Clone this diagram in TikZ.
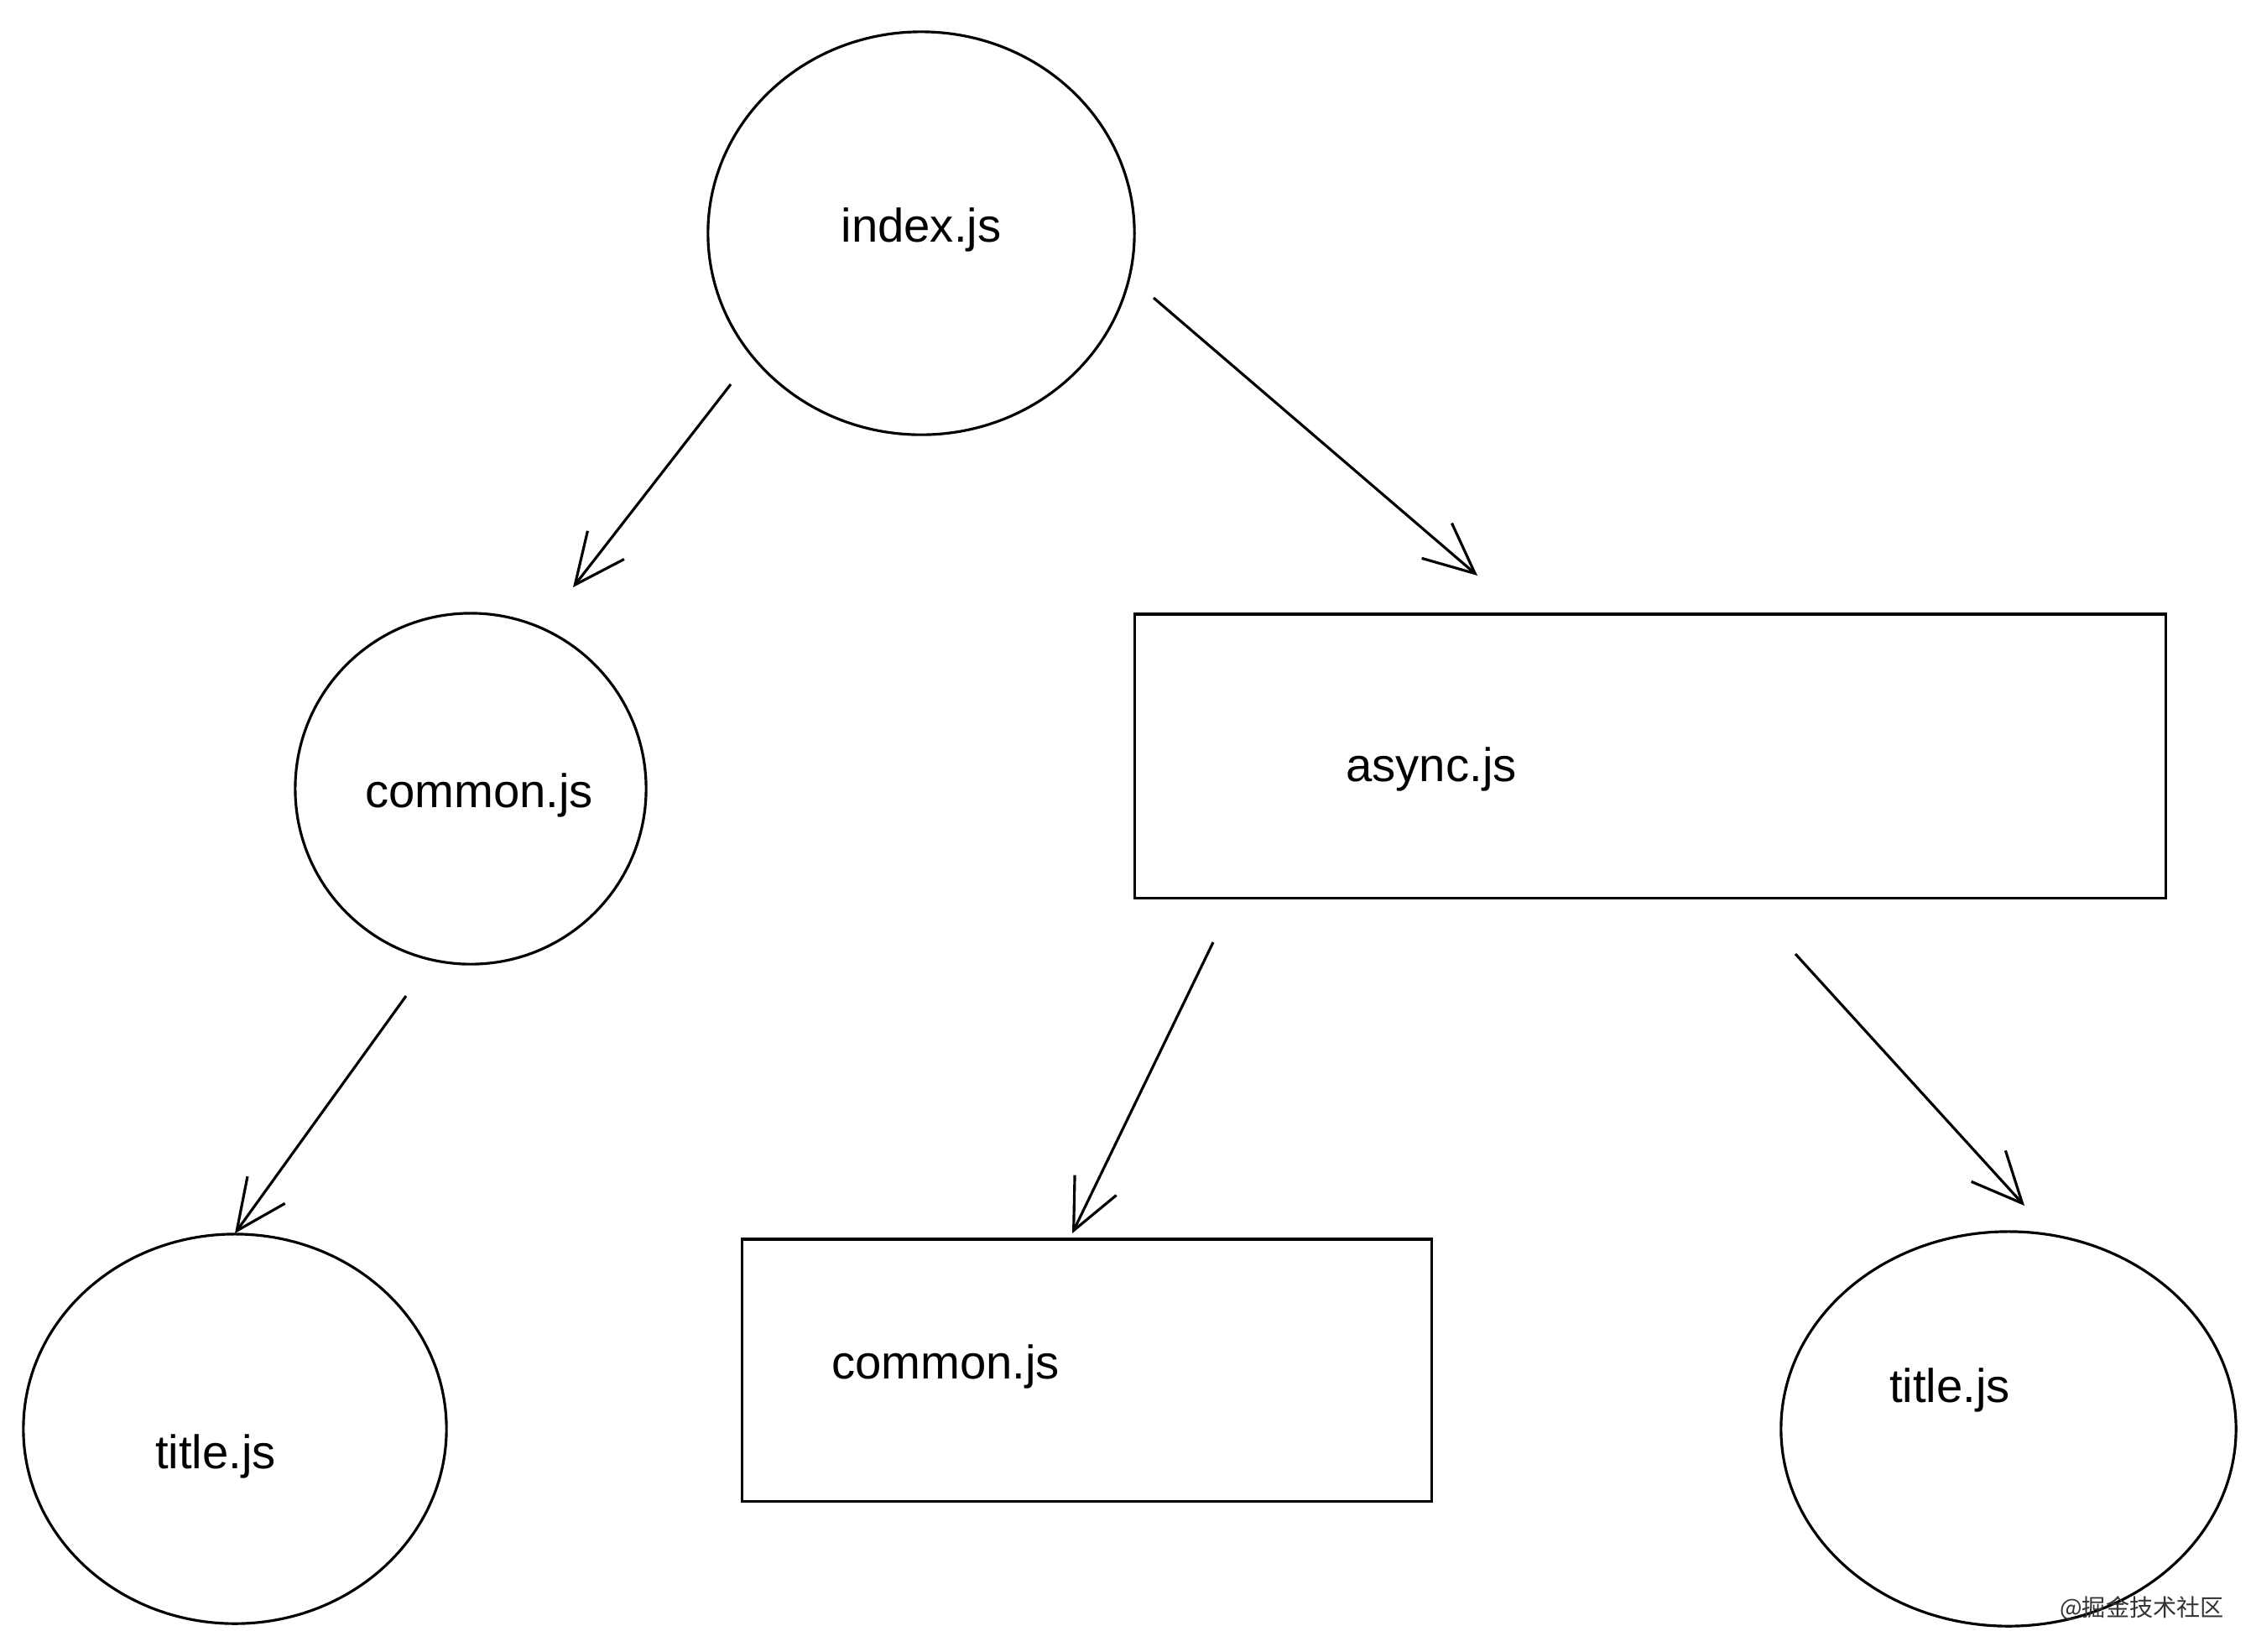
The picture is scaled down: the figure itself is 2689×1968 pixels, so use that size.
\documentclass[tikz,border=0pt]{standalone}
\usepackage{fontspec}
\setmainfont{Liberation Sans}
\newfontfamily\cjk{Noto Sans CJK SC}
\usetikzlibrary{shapes.geometric,arrows.meta}
\begin{document}
\begin{tikzpicture}[x=0.01cm,y=-0.01cm,
  sk/.style={draw=black,line width=0.9pt},
  bubble/.style={sk,ellipse,inner sep=0pt},
  box/.style={sk,rectangle,inner sep=0pt},
  lbl/.style={font=\fontsize{16}{18}\selectfont},
  arr/.style={draw=black,line width=0.9pt,-{Straight Barb[length=6mm,width=5.5mm]}}]
\useasboundingbox[fill=white] (0,0) rectangle (2689,1968);
% shapes
\node[bubble,minimum width=5.08cm,minimum height=4.8cm] (idx) at (1098,278) {};
\node[bubble,minimum width=4.18cm,minimum height=4.18cm] (com) at (561,940) {};
\node[bubble,minimum width=5.04cm,minimum height=4.64cm] (titL) at (280,1703) {};
\node[bubble,minimum width=5.42cm,minimum height=4.7cm] (titR) at (2394,1703) {};
\node[box,minimum width=12.28cm,minimum height=3.38cm] (asy) at (1967,901) {};
\node[box,minimum width=8.21cm,minimum height=3.12cm] (comR) at (1295.5,1633) {};
% labels
\node[lbl] (tidx) at (1098,274) {index.js};
\node[lbl] (tcom) at (571,948) {common.js};
\node[lbl] (tasy) at (1706,917) {async.js};
\node[lbl] (tcomR) at (1127,1629) {common.js};
\node[lbl] (ttitL) at (257,1736) {title.js};
\node[lbl] (ttitR) at (2324,1657) {title.js};
% arrow endpoints
\coordinate (a1s) at (871,458);  \coordinate (a1e) at (683,700);
\coordinate (a2s) at (1375,355); \coordinate (a2e) at (1761,686);
\coordinate (a3s) at (484,1187); \coordinate (a3e) at (280,1470);
\coordinate (a4s) at (1446,1123);\coordinate (a4e) at (1278,1470);
\coordinate (a5s) at (2140,1137);\coordinate (a5e) at (2413,1437);
\draw[arr] (a1s) -- (a1e);
\draw[arr] (a2s) -- (a2e);
\draw[arr] (a3s) -- (a3e);
\draw[arr] (a4s) -- (a4e);
\draw[arr] (a5s) -- (a5e);
% watermark
\node[font=\cjk\fontsize{8}{9}\selectfont,text=black!80] (wm) at (2553,1917) {@掘金技术社区};
\end{tikzpicture}
\end{document}
